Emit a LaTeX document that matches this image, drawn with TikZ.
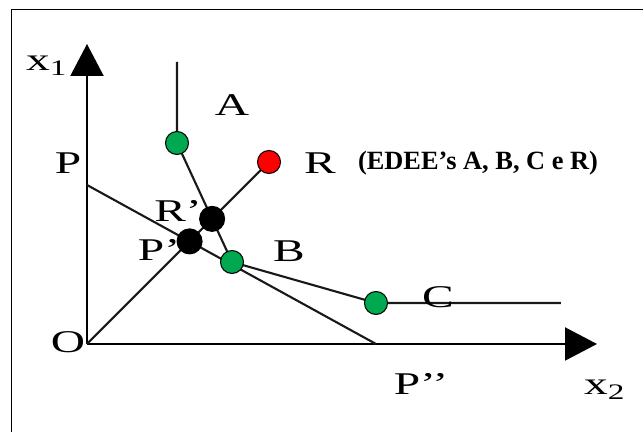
\documentclass[tikz,border=0pt]{standalone}
\usepackage{fontspec}
\setmainfont{Liberation Serif}
\usetikzlibrary{arrows.meta,calc}

\definecolor{dotgreen}{RGB}{0,168,80}
\tikzset{
  seg/.style={line width=1.2pt, black!90},
  axis/.style={line width=1.2pt, -{Triangle[length=0.64cm,width=0.66cm]}},
  dot/.style={circle, draw=black, line width=0.6pt, inner sep=0pt, minimum size=0.46cm},
  lab/.style={font=\fontsize{18}{20}\selectfont, inner sep=0pt, xscale=1.5}
}

\begin{document}
\begin{tikzpicture}
  \useasboundingbox (0,0) rectangle (12.86,8.64);
  % frame (only top and left edge show)
  \draw[line width=0.8pt] (0.23,0) -- (0.23,8.45) -- (12.86,8.45);

  \coordinate (O) at (1.74,1.76);
  \coordinate (X1) at (1.74,7.76);
  \coordinate (X2) at (11.94,1.76);
  \coordinate (P) at (1.74,4.94);
  \coordinate (Ppp) at (7.52,1.76);
  \coordinate (Atop) at (3.54,7.40);
  \coordinate (A) at (3.54,5.78);
  \coordinate (B) at (4.64,3.40);
  \coordinate (C) at (7.52,2.58);
  \coordinate (Cend) at (11.22,2.58);
  \coordinate (R) at (5.38,5.40);
  \coordinate (Rp) at (intersection of O--R and A--B);
  \coordinate (Pp) at (intersection of O--R and P--Ppp);

  \draw[axis] (O) -- (X1);
  \draw[axis] (O) -- (X2);
  \draw[seg] (P) -- (Ppp);
  \draw[seg] (Atop) -- (A) -- (B) -- (C) -- (Cend);
  \draw[seg] (O) -- (R);

  \node[lab] (x1lab) at (0.94,7.32) {x\textsubscript{1}};
  \node[lab] (x2lab) at (12.10,0.84) {x\textsubscript{2}};
  \node[lab] (Olab) at (1.36,1.80) {O};
  \node[lab] (Plab) at (1.36,5.38) {P};
  \node[lab] (Ppplab) at (8.42,0.96) {P’’};
  \node[lab] (Alab) at (4.64,6.54) {A};
  \node[lab] (Blab) at (5.78,3.62) {B};
  \node[lab] (Clab) at (8.76,2.70) {C};
  \node[lab] (Rlab) at (6.40,5.38) {R};
  \node[lab] (Rplab) at (3.56,4.42) {R’};
  \node[lab] (Pplab) at (3.18,3.64) {P’};
  \node[font=\fontsize{15}{17}\selectfont\bfseries, inner sep=0pt] (edee) at (9.56,5.38) {(EDEE’s A, B, C e R)};

  \node[dot, fill=dotgreen] (Adot) at (A) {};
  \node[dot, fill=dotgreen] (Bdot) at (B) {};
  \node[dot, fill=dotgreen] (Cdot) at (C) {};
  \node[dot, fill=red] (Rdot) at (R) {};
  \node[dot, fill=black, minimum size=0.5cm] (Rpdot) at (Rp) {};
  \node[dot, fill=black, minimum size=0.5cm] (Ppdot) at (Pp) {};
\end{tikzpicture}
\end{document}
